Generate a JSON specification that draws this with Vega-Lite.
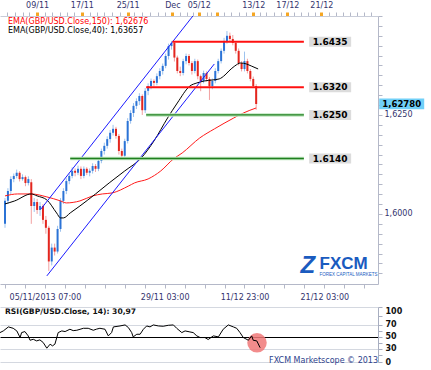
{
"$schema": "https://vega.github.io/schema/vega-lite/v6.json",
"padding": {"left": 0, "top": 1, "right": 0, "bottom": 0},
"background": "white",
"bounds": "flush",
"spacing": 23,
"config": {"view": {"stroke": null}, "font": "DejaVu Sans", "axis": {"labelFont": "DejaVu Sans", "title": null}},
"datasets": {
"candles": [
{"t":0,"o":1.5975,"h":1.6040,"l":1.5965,"c":1.6033},
{"t":1,"o":1.6033,"h":1.6065,"l":1.6025,"c":1.6058},
{"t":2,"o":1.6058,"h":1.6095,"l":1.6050,"c":1.6088},
{"t":3,"o":1.6088,"h":1.6102,"l":1.6080,"c":1.6096},
{"t":4,"o":1.6096,"h":1.6112,"l":1.6090,"c":1.6104},
{"t":5,"o":1.6104,"h":1.6108,"l":1.6082,"c":1.6088},
{"t":6,"o":1.6088,"h":1.6100,"l":1.6084,"c":1.6093},
{"t":7,"o":1.6093,"h":1.6097,"l":1.6070,"c":1.6078},
{"t":8,"o":1.6078,"h":1.6095,"l":1.6072,"c":1.6088},
{"t":9,"o":1.6080,"h":1.6088,"l":1.5975,"c":1.6020},
{"t":10,"o":1.6020,"h":1.6040,"l":1.6005,"c":1.6030},
{"t":11,"o":1.6030,"h":1.6038,"l":1.6000,"c":1.6010},
{"t":12,"o":1.6010,"h":1.6030,"l":1.5995,"c":1.6020},
{"t":13,"o":1.6020,"h":1.6025,"l":1.5975,"c":1.5985},
{"t":14,"o":1.5985,"h":1.5995,"l":1.5950,"c":1.5965},
{"t":15,"o":1.5965,"h":1.5970,"l":1.5856,"c":1.5880},
{"t":16,"o":1.5880,"h":1.5925,"l":1.5870,"c":1.5915},
{"t":17,"o":1.5915,"h":1.5925,"l":1.5895,"c":1.5905},
{"t":18,"o":1.5905,"h":1.5970,"l":1.5900,"c":1.5962},
{"t":19,"o":1.5962,"h":1.6040,"l":1.5955,"c":1.6033},
{"t":20,"o":1.6033,"h":1.6065,"l":1.6025,"c":1.6058},
{"t":21,"o":1.6058,"h":1.6090,"l":1.6050,"c":1.6083},
{"t":22,"o":1.6083,"h":1.6102,"l":1.6075,"c":1.6096},
{"t":23,"o":1.6096,"h":1.6118,"l":1.6090,"c":1.6109},
{"t":24,"o":1.6109,"h":1.6115,"l":1.6095,"c":1.6104},
{"t":25,"o":1.6104,"h":1.6122,"l":1.6098,"c":1.6114},
{"t":26,"o":1.6114,"h":1.6120,"l":1.6088,"c":1.6096},
{"t":27,"o":1.6096,"h":1.6120,"l":1.6090,"c":1.6114},
{"t":28,"o":1.6114,"h":1.6118,"l":1.6098,"c":1.6104},
{"t":29,"o":1.6104,"h":1.6115,"l":1.6095,"c":1.6109},
{"t":30,"o":1.6109,"h":1.6128,"l":1.6102,"c":1.6121},
{"t":31,"o":1.6121,"h":1.6126,"l":1.6106,"c":1.6114},
{"t":32,"o":1.6114,"h":1.6140,"l":1.6108,"c":1.6134},
{"t":33,"o":1.6134,"h":1.6165,"l":1.6128,"c":1.6159},
{"t":34,"o":1.6159,"h":1.6180,"l":1.6150,"c":1.6172},
{"t":35,"o":1.6172,"h":1.6196,"l":1.6165,"c":1.6189},
{"t":36,"o":1.6189,"h":1.6212,"l":1.6180,"c":1.6205},
{"t":37,"o":1.6205,"h":1.6225,"l":1.6198,"c":1.6215},
{"t":38,"o":1.6215,"h":1.6220,"l":1.6190,"c":1.6197},
{"t":39,"o":1.6197,"h":1.6202,"l":1.6150,"c":1.6159},
{"t":40,"o":1.6159,"h":1.6165,"l":1.6140,"c":1.6147},
{"t":41,"o":1.6147,"h":1.6190,"l":1.6142,"c":1.6184},
{"t":42,"o":1.6184,"h":1.6242,"l":1.6178,"c":1.6235},
{"t":43,"o":1.6235,"h":1.6262,"l":1.6228,"c":1.6255},
{"t":44,"o":1.6255,"h":1.6280,"l":1.6245,"c":1.6273},
{"t":45,"o":1.6273,"h":1.6292,"l":1.6265,"c":1.6285},
{"t":46,"o":1.6285,"h":1.6305,"l":1.6275,"c":1.6298},
{"t":47,"o":1.6298,"h":1.6302,"l":1.6250,"c":1.6262},
{"t":48,"o":1.6262,"h":1.6318,"l":1.6255,"c":1.6311},
{"t":49,"o":1.6311,"h":1.6330,"l":1.6300,"c":1.6323},
{"t":50,"o":1.6323,"h":1.6342,"l":1.6315,"c":1.6336},
{"t":51,"o":1.6336,"h":1.6340,"l":1.6322,"c":1.6331},
{"t":52,"o":1.6331,"h":1.6355,"l":1.6325,"c":1.6348},
{"t":53,"o":1.6348,"h":1.6368,"l":1.6340,"c":1.6361},
{"t":54,"o":1.6361,"h":1.6380,"l":1.6352,"c":1.6374},
{"t":55,"o":1.6374,"h":1.6405,"l":1.6368,"c":1.6399},
{"t":56,"o":1.6399,"h":1.6430,"l":1.6390,"c":1.6424},
{"t":57,"o":1.6424,"h":1.6437,"l":1.6415,"c":1.6432},
{"t":58,"o":1.6432,"h":1.6436,"l":1.6385,"c":1.6395},
{"t":59,"o":1.6395,"h":1.6400,"l":1.6355,"c":1.6361},
{"t":60,"o":1.6361,"h":1.6372,"l":1.6348,"c":1.6356},
{"t":61,"o":1.6356,"h":1.6392,"l":1.6350,"c":1.6386},
{"t":62,"o":1.6386,"h":1.6405,"l":1.6378,"c":1.6399},
{"t":63,"o":1.6399,"h":1.6404,"l":1.6375,"c":1.6381},
{"t":64,"o":1.6381,"h":1.6386,"l":1.6352,"c":1.6361},
{"t":65,"o":1.6361,"h":1.6392,"l":1.6355,"c":1.6386},
{"t":66,"o":1.6386,"h":1.6390,"l":1.6340,"c":1.6348},
{"t":67,"o":1.6348,"h":1.6352,"l":1.6310,"c":1.6336},
{"t":68,"o":1.6336,"h":1.6362,"l":1.6330,"c":1.6356},
{"t":69,"o":1.6356,"h":1.6360,"l":1.6335,"c":1.6341},
{"t":70,"o":1.6341,"h":1.6346,"l":1.6288,"c":1.6323},
{"t":71,"o":1.6323,"h":1.6342,"l":1.6315,"c":1.6336},
{"t":72,"o":1.6336,"h":1.6368,"l":1.6330,"c":1.6361},
{"t":73,"o":1.6361,"h":1.6392,"l":1.6355,"c":1.6386},
{"t":74,"o":1.6386,"h":1.6418,"l":1.6380,"c":1.6412},
{"t":75,"o":1.6412,"h":1.6445,"l":1.6405,"c":1.6437},
{"t":76,"o":1.6437,"h":1.6462,"l":1.6430,"c":1.6450},
{"t":77,"o":1.6450,"h":1.6458,"l":1.6436,"c":1.6442},
{"t":78,"o":1.6442,"h":1.6452,"l":1.6426,"c":1.6432},
{"t":79,"o":1.6432,"h":1.6436,"l":1.6405,"c":1.6412},
{"t":80,"o":1.6412,"h":1.6418,"l":1.6375,"c":1.6381},
{"t":81,"o":1.6381,"h":1.6386,"l":1.6360,"c":1.6366},
{"t":82,"o":1.6366,"h":1.6410,"l":1.6360,"c":1.6386},
{"t":83,"o":1.6386,"h":1.6392,"l":1.6355,"c":1.6361},
{"t":84,"o":1.6361,"h":1.6366,"l":1.6335,"c":1.6341},
{"t":85,"o":1.6341,"h":1.6347,"l":1.6318,"c":1.6323},
{"t":86,"o":1.6323,"h":1.6328,"l":1.6263,"c":1.6278}
],
"ema40": [
{"t":0,"p":1.60253},{"t":3.33,"p":1.60329},{"t":9,"p":1.60505},{"t":11,"p":1.60455},{"t":14.33,"p":1.60354},{"t":17.67,"p":1.60025},{"t":19,"p":1.59899},{"t":20,"p":1.59899},{"t":22.33,"p":1.60025},{"t":25.67,"p":1.60202},{"t":31,"p":1.60505},{"t":35.67,"p":1.60783},{"t":41,"p":1.61086},{"t":46.67,"p":1.61414},{"t":51,"p":1.61843},{"t":55.67,"p":1.62424},{"t":59,"p":1.62803},{"t":63.33,"p":1.63232},{"t":65.67,"p":1.63308},{"t":68.33,"p":1.63359},{"t":71,"p":1.63384},{"t":73.33,"p":1.6341},{"t":75.33,"p":1.6351},{"t":76.67,"p":1.63611},{"t":78.67,"p":1.63737},{"t":80.67,"p":1.63813},{"t":82.67,"p":1.63788},{"t":84.33,"p":1.63737},{"t":86.67,"p":1.63662}
],
"ema150": [
{"t":0,"p":1.60455},{"t":4.33,"p":1.60505},{"t":9,"p":1.60505},{"t":14.33,"p":1.6043},{"t":19,"p":1.60329},{"t":21,"p":1.60278},{"t":25.67,"p":1.60329},{"t":30,"p":1.60455},{"t":33.33,"p":1.60505},{"t":36.67,"p":1.6053},{"t":42.33,"p":1.60707},{"t":44.33,"p":1.60783},{"t":49,"p":1.60884},{"t":53.33,"p":1.61086},{"t":57.67,"p":1.61389},{"t":60.67,"p":1.6154},{"t":66.67,"p":1.61919},{"t":71.67,"p":1.62147},{"t":78.33,"p":1.62424},{"t":81.67,"p":1.62551},{"t":86,"p":1.62677}
],
"channel": [
{"g":"upper","t":12.33,"p":1.60126},{"g":"upper","t":64.33,"p":1.65},
{"g":"lower","t":14.33,"p":1.58435},{"g":"lower","t":71.67,"p":1.63788}
],
"levels": [
{"lv":1.6435,"t1":57.33,"t2":102.33,"k":"r","txt":"1.6435"},
{"lv":1.632,"t1":48.33,"t2":102.33,"k":"r","txt":"1.6320"},
{"lv":1.625,"t1":48.33,"t2":102.33,"k":"g","txt":"1.6250"},
{"lv":1.614,"t1":22.33,"t2":102.33,"k":"g","txt":"1.6140"}
],
"rsi": [
{"t":0,"v":57.2},{"t":1.1,"v":60},{"t":2.8,"v":66.7},{"t":4.4,"v":64.4},{"t":5.6,"v":60},{"t":6.7,"v":48.9},{"t":7.2,"v":57.2},{"t":8.3,"v":58.9},{"t":9.4,"v":51.7},{"t":10,"v":44.4},{"t":11.1,"v":46},{"t":12.2,"v":43.3},{"t":13.3,"v":45},{"t":14.4,"v":40.6},{"t":15.6,"v":31.1},{"t":16.7,"v":37.8},{"t":17.5,"v":35},{"t":18.3,"v":37.8},{"t":19.4,"v":57.2},{"t":20.6,"v":60},{"t":21.7,"v":58.9},{"t":23.3,"v":62.8},{"t":24.4,"v":60.5},{"t":25.6,"v":61.1},{"t":27.8,"v":64.4},{"t":29.4,"v":64.4},{"t":31.1,"v":61.1},{"t":32.2,"v":63},{"t":33.3,"v":64.4},{"t":35,"v":62.8},{"t":36.1,"v":51.7},{"t":37.2,"v":57.2},{"t":37.8,"v":66.7},{"t":40,"v":68.3},{"t":41.7,"v":70},{"t":42.8,"v":65.6},{"t":43.9,"v":57.2},{"t":44.4,"v":50},{"t":45.6,"v":54.4},{"t":46.7,"v":54.4},{"t":47.8,"v":62.8},{"t":48.9,"v":68.3},{"t":50,"v":66.7},{"t":51.1,"v":70},{"t":52.8,"v":68.3},{"t":54.4,"v":67.8},{"t":56.1,"v":69.4},{"t":57.8,"v":70},{"t":58.9,"v":64.4},{"t":60.6,"v":57.2},{"t":61.7,"v":60},{"t":63.3,"v":58.3},{"t":64.4,"v":57.2},{"t":65.6,"v":51.7},{"t":66.7,"v":48.9},{"t":68.3,"v":48.9},{"t":69.4,"v":45.6},{"t":71.1,"v":51.7},{"t":72.8,"v":50},{"t":74.4,"v":62.8},{"t":76.1,"v":70},{"t":77.8,"v":66.7},{"t":78.9,"v":64.4},{"t":80,"v":57.2},{"t":81.1,"v":48.9},{"t":82.8,"v":44.4},{"t":83.9,"v":51.7},{"t":84.4,"v":44.4},{"t":85.6,"v":43.3},{"t":86.7,"v":32}
]
},
"vconcat": [
{
"width": 378,
"height": 268,
"resolve": {"axis": {"x": "independent", "y": "independent"}},
"layer": [
{
"data": {"name": "candles"},
"mark": {"type": "rule", "clip": true, "strokeWidth": 1},
"encoding": {
"x": {"field": "t", "type": "quantitative", "scale": {"domain": [0, 126], "nice": false, "zero": false},
"axis": {"orient": "bottom", "values": [0, 6.8333, 13.6667, 20.5, 27.3333, 34.1667, 41, 47.8333, 54.6667, 61.5, 68.3333, 75.1667, 82, 88.8333, 95.6667, 102.5, 109.3333, 116.1667, 123],
"labelExpr": "abs(datum.value-13.6667)<0.01?'05/11/2013 07:00':abs(datum.value-54.6667)<0.01?'29/11 03:00':abs(datum.value-82)<0.01?'11/12 23:00':abs(datum.value-109.3333)<0.01?'21/12 03:00':''",
"title": null, "grid": false, "domainColor": "#b4b8c8", "tickColor": "#b4b8c8", "tickSize": 4, "labelPadding": 5, "labelFontSize": 8, "labelColor": "#34346e", "labelOverlap": false, "labelFlush": false}},
"y": {"field": "l", "type": "quantitative", "scale": {"domain": [1.5823, 1.65], "nice": false, "zero": false},
"axis": {"orient": "right", "values": [1.585,1.5875,1.59,1.5925,1.595,1.5975,1.6,1.6025,1.605,1.6075,1.61,1.6125,1.615,1.6175,1.62,1.6225,1.625,1.6275,1.63,1.6325,1.635,1.6375,1.64,1.6425,1.645,1.6475,1.65],
"labelExpr": "abs(datum.value-1.6)<0.00001?'1,6000':abs(datum.value-1.625)<0.00001?'1,6250':''",
"title": null, "grid": false, "domainColor": "#b4b8c8", "tickColor": "#b4b8c8", "tickSize": 4, "labelPadding": 2, "labelFontSize": 8, "labelColor": "#34346e", "labelOverlap": false, "labelFlush": false}},
"y2": {"field": "h"},
"color": {"condition": {"test": "datum.c >= datum.o", "value": "#9cc2ee"}, "value": "#f2a0a0"}
}
},
{
"data": {"name": "candles"},
"mark": {"type": "bar", "size": 2, "clip": true},
"encoding": {
"x": {"field": "t", "type": "quantitative", "scale": {"domain": [0, 126]}, "axis": null},
"y": {"field": "o", "type": "quantitative", "scale": {"domain": [1.5823, 1.65], "nice": false, "zero": false}, "axis": null},
"y2": {"field": "c"},
"color": {"condition": {"test": "datum.c >= datum.o", "value": "#2b73d6"}, "value": "#e3261e"}
}
},
{
"data": {"name": "ema150"},
"mark": {"type": "line", "color": "#ff1a1a", "strokeWidth": 1, "interpolate": "monotone", "clip": true},
"encoding": {
"x": {"field": "t", "type": "quantitative", "scale": {"domain": [0, 126]},
"axis": {"orient": "top", "values": [0.67,3.33,6,8.33,11,13.67,16,18.67,21.33,23.67,26.33,29,31.67,34,36.67,39.33,42,44.33,47,49.67,52.33,54.67,57.33,60,62.33,64.33,66.33,69,70.67,72.67,75,77.33,80,82.67,85,87.33,89.33,92,94.33,96.67,99,101.33,103.67,106,108.33,111,113.33,115.67,118,120.67,123,125.33],
"labelExpr": "datum.value==11?'09/11':datum.value==26.33?'17/11':datum.value==42?'25/11':datum.value==57.33?'Dec':datum.value==66.33?'05/12':datum.value==85?'13/12':datum.value==96.67?'17/12':datum.value==108.33?'21/12':''",
"tickColor": {"condition": {"test": "indexof([11,26.33,42,57.33,66.33,72.67,85,96.67,108.33], datum.value) >= 0", "value": "#f5a623"}, "value": "#b4b8c8"},
"tickWidth": {"condition": {"test": "indexof([11,26.33,42,57.33,66.33,72.67,85,96.67,108.33], datum.value) >= 0", "value": 3}, "value": 1},
"title": null, "grid": false, "domainColor": "#c8ccd8", "tickSize": 4, "labelPadding": 3, "labelFontSize": 8, "labelColor": "#34346e", "labelOverlap": false, "labelFlush": false}},
"y": {"field": "p", "type": "quantitative", "scale": {"domain": [1.5823, 1.65], "nice": false, "zero": false}, "axis": null}
}
},
{
"data": {"name": "ema40"},
"mark": {"type": "line", "color": "#000000", "strokeWidth": 1, "interpolate": "monotone", "clip": true},
"encoding": {
"x": {"field": "t", "type": "quantitative", "scale": {"domain": [0, 126]}, "axis": null},
"y": {"field": "p", "type": "quantitative", "scale": {"domain": [1.5823, 1.65], "nice": false, "zero": false}, "axis": null}
}
},
{
"data": {"name": "channel"},
"mark": {"type": "line", "color": "#1a1aff", "strokeWidth": 1, "clip": true},
"encoding": {
"x": {"field": "t", "type": "quantitative", "scale": {"domain": [0, 126]}, "axis": null},
"y": {"field": "p", "type": "quantitative", "scale": {"domain": [1.5823, 1.65], "nice": false, "zero": false}, "axis": null},
"detail": {"field": "g"}
}
},
{
"data": {"name": "levels"},
"transform": [{"filter": "datum.k == 'g'"}],
"mark": {"type": "rule", "color": "#bfe6bf", "strokeWidth": 3.5},
"encoding": {
"x": {"field": "t1", "type": "quantitative", "scale": {"domain": [0, 126]}, "axis": null},
"x2": {"field": "t2"},
"y": {"field": "lv", "type": "quantitative", "scale": {"domain": [1.5823, 1.65], "nice": false, "zero": false}, "axis": null}
}
},
{
"data": {"name": "levels"},
"mark": {"type": "rule"},
"encoding": {
"x": {"field": "t1", "type": "quantitative", "scale": {"domain": [0, 126]}, "axis": null},
"x2": {"field": "t2"},
"y": {"field": "lv", "type": "quantitative", "scale": {"domain": [1.5823, 1.65], "nice": false, "zero": false}, "axis": null},
"color": {"condition": {"test": "datum.k == 'r'", "value": "#ff1010"}, "value": "#1f7f1f"},
"strokeWidth": {"condition": {"test": "datum.k == 'r'", "value": 2}, "value": 1.3}
}
},
{
"data": {"name": "levels"},
"mark": {"type": "point", "shape": "M-1,-0.24L1,-0.24L1,0.24L-1,0.24Z", "size": 1764, "filled": true, "color": "#dcdcdc", "opacity": 1},
"encoding": {
"x": {"datum": 111.33, "type": "quantitative", "axis": null},
"y": {"field": "lv", "type": "quantitative", "axis": null}
}
},
{
"data": {"name": "levels"},
"mark": {"type": "text", "font": "DejaVu Sans", "fontWeight": "bold", "fontSize": 9, "color": "#000000", "align": "center", "baseline": "middle"},
"encoding": {
"x": {"datum": 111.33, "type": "quantitative", "axis": null},
"y": {"field": "lv", "type": "quantitative", "axis": null},
"text": {"field": "txt"}
}
},
{
"data": {"values": [{"txt": "1,62780"}]},
"mark": {"type": "point", "shape": "M-1,-0.24L1,-0.24L1,0.24L-1,0.24Z", "size": 2025, "filled": true, "color": "#70d0f8", "opacity": 1},
"encoding": {
"x": {"datum": 135.83, "type": "quantitative", "axis": null},
"y": {"datum": 1.6278, "type": "quantitative", "axis": null}
}
},
{
"data": {"values": [{"txt": "1,62780"}]},
"mark": {"type": "text", "font": "DejaVu Sans", "fontWeight": "bold", "fontSize": 8.5, "color": "#000000", "align": "center", "baseline": "middle"},
"encoding": {
"x": {"datum": 135.83, "type": "quantitative", "axis": null},
"y": {"datum": 1.6278, "type": "quantitative", "axis": null},
"text": {"field": "txt"}
}
},
{
"data": {"values": [{"txt": "EMA(GBP/USD.Close,150): 1,62676"}]},
"mark": {"type": "text", "font": "DejaVu Sans", "fontSize": 8, "color": "#ff0000", "align": "left", "baseline": "middle"},
"encoding": {
"x": {"datum": 1, "type": "quantitative", "axis": null},
"y": {"datum": 1.64848, "type": "quantitative", "axis": null},
"text": {"field": "txt"}
}
},
{
"data": {"values": [{"txt": "EMA(GBP/USD.Close,40): 1,63657"}]},
"mark": {"type": "text", "font": "DejaVu Sans", "fontSize": 8, "color": "#000000", "align": "left", "baseline": "middle"},
"encoding": {
"x": {"datum": 1, "type": "quantitative", "axis": null},
"y": {"datum": 1.64621, "type": "quantitative", "axis": null},
"text": {"field": "txt"}
}
},
{
"data": {"values": [{"txt": "Z"}]},
"mark": {"type": "text", "font": "Liberation Sans", "fontWeight": "bold", "fontStyle": "italic", "fontSize": 24, "color": "#1a5bbf", "align": "center", "baseline": "middle"},
"encoding": {
"x": {"datum": 103.7, "type": "quantitative", "axis": null},
"y": {"datum": 1.58687, "type": "quantitative", "axis": null},
"text": {"field": "txt"}
}
},
{
"data": {"values": [{"txt": "FXCM"}]},
"mark": {"type": "text", "font": "Liberation Sans", "fontWeight": "bold", "fontSize": 17, "color": "#1a5bbf", "align": "left", "baseline": "middle"},
"encoding": {
"x": {"datum": 107.7, "type": "quantitative", "axis": null},
"y": {"datum": 1.58725, "type": "quantitative", "axis": null},
"text": {"field": "txt"}
}
},
{
"data": {"values": [{"txt": "FOREX CAPITAL MARKETS"}]},
"mark": {"type": "text", "font": "Liberation Sans", "fontSize": 4.5, "color": "#1a5bbf", "align": "left", "baseline": "middle"},
"encoding": {
"x": {"datum": 107.7, "type": "quantitative", "axis": null},
"y": {"datum": 1.58447, "type": "quantitative", "axis": null},
"text": {"field": "txt"}
}
}
]
},
{
"width": 378,
"height": 55,
"resolve": {"axis": {"y": "independent"}},
"layer": [
{
"data": {"values": [{"txt": "marker"}]},
"mark": {"type": "point", "shape": "circle", "size": 380, "filled": true, "color": "#f07878", "opacity": 0.85},
"encoding": {
"x": {"datum": 85.67, "type": "quantitative", "axis": null},
"y": {"datum": 40, "type": "quantitative", "axis": null}
}
},
{
"data": {"name": "rsi"},
"mark": {"type": "line", "color": "#000000", "strokeWidth": 1, "clip": true},
"encoding": {
"x": {"field": "t", "type": "quantitative", "scale": {"domain": [0, 126], "nice": false, "zero": false}, "axis": null},
"y": {"field": "v", "type": "quantitative", "scale": {"domain": [8, 100], "nice": false, "zero": false},
"axis": {"orient": "right", "values": [8, 20, 30, 40, 50, 60, 70, 85, 100],
"labelExpr": "datum.value==8?'0':(datum.value==30||datum.value==50||datum.value==70||datum.value==100)?datum.label:''",
"title": null, "grid": true,
"gridColor": {"condition": {"test": "datum.value==50", "value": "#000000"}, "value": "#d4d8e0"},
"gridOpacity": {"condition": {"test": "datum.value==20||datum.value==40||datum.value==60||datum.value==85", "value": 0}, "value": 1},
"labelBaseline": {"condition": {"test": "datum.value==100", "value": "top"}, "value": "middle"},
"labelFontWeight": "bold", "labelFontSize": 8, "labelColor": "#111111", "tickSize": 4, "tickColor": "#a8aec0", "domainColor": "#a8aec0", "labelPadding": 3, "labelOverlap": false, "labelFlush": false}}
}
},
{
"data": {"values": [{"txt": "RSI(GBP/USD.Close, 14): 30,97"}]},
"mark": {"type": "text", "font": "DejaVu Sans", "fontWeight": "bold", "fontSize": 7.6, "color": "#111111", "align": "left", "baseline": "middle"},
"encoding": {
"x": {"datum": 1.67, "type": "quantitative", "axis": null},
"y": {"datum": 92, "type": "quantitative", "axis": null},
"text": {"field": "txt"}
}
},
{
"data": {"values": [{"txt": "FXCM Marketscope © 2013"}]},
"mark": {"type": "text", "font": "DejaVu Sans", "fontSize": 8, "color": "#2d3f8c", "align": "right", "baseline": "middle"},
"encoding": {
"x": {"datum": 126, "type": "quantitative", "axis": null},
"y": {"datum": 9.7, "type": "quantitative", "axis": null},
"text": {"field": "txt"}
}
}
]
}
]
}
